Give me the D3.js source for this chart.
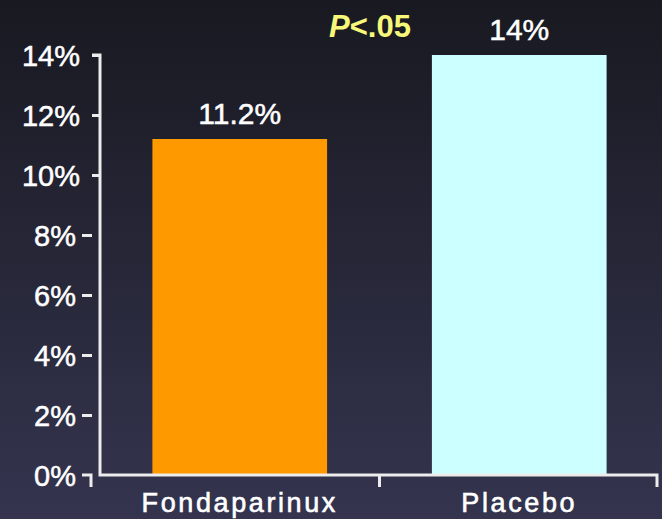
<!DOCTYPE html>
<html>
<head>
<meta charset="utf-8">
<script src="https://cdn.jsdelivr.net/npm/d3@7"></script>
<style>
  html, body { margin: 0; padding: 0; background: #1a1a24; }
  svg { display: block; }
  text { font-family: "Liberation Sans", Arial, sans-serif; }
</style>
</head>
<body>
<div id="chart-area"></div>
<script>
// data
var categories = ["Fondaparinux", "Placebo"];
var values = [11.2, 14];
var valueLabels = ["11.2%", "14%"];
var barColors = ["#ff9900", "#ccffff"];
var yTicks = [0, 2, 4, 6, 8, 10, 12, 14];
var pLabel = ".05";

var W = 662, H = 519;
var margin = { left: 100, right: 3, top: 55, bottom: 44 };
var width = W - margin.left - margin.right,
    height = H - margin.top - margin.bottom;

var svg = d3.select("#chart-area")
    .append("svg")
        .attr("width", W)
        .attr("height", H);

// background gradient
var grad = svg.append("defs").append("linearGradient")
    .attr("id", "bg")
    .attr("x1", 0).attr("y1", 0).attr("x2", 0).attr("y2", 1);
grad.append("stop").attr("offset", "0%").attr("stop-color", "#191921");
grad.append("stop").attr("offset", "100%").attr("stop-color", "#34344f");
svg.append("rect")
    .attr("width", W).attr("height", H)
    .attr("fill", "url(#bg)");

var g = svg.append("g")
    .attr("transform", "translate(" + margin.left + ", " + margin.top + ")");

// scales
var x = d3.scaleBand()
    .domain(categories)
    .range([0, width])
    .paddingInner(0.375)
    .paddingOuter(0.1875);

var y = d3.scaleLinear()
    .domain([0, 14])
    .range([height, 0]);

var axisColor = "#ececec";

// bars
g.selectAll("rect.bar")
    .data(categories)
    .enter().append("rect")
        .attr("class", "bar")
        .attr("x", function(d){ return x(d); })
        .attr("y", function(d, i){ return y(values[i]); })
        .attr("width", x.bandwidth())
        .attr("height", function(d, i){ return height - y(values[i]); })
        .attr("fill", function(d, i){ return barColors[i]; });

// value labels
g.selectAll("text.val")
    .data(categories)
    .enter().append("text")
        .attr("class", "val")
        .attr("x", function(d){ return x(d) + x.bandwidth() / 2; })
        .attr("y", function(d, i){ return y(values[i]) - 15; })
        .attr("text-anchor", "middle")
        .attr("fill", "#ffffff")
        .attr("stroke", "#ffffff")
        .attr("stroke-width", 0.5)
        .attr("font-size", "30px")
        .text(function(d, i){ return valueLabels[i]; });

// Y axis
var yAxisGroup = g.append("g").attr("class", "y axis");
yAxisGroup.call(d3.axisLeft(y).tickValues(yTicks).tickSize(8).tickSizeOuter(0)
    .tickFormat(function(d){ return d + "%"; }));
yAxisGroup.select(".domain").remove();
yAxisGroup.selectAll(".tick line")
    .attr("stroke", axisColor)
    .attr("stroke-width", 3)
    .attr("x1", function(d){ return d >= 10 ? 0 : -8; })
    .attr("x2", function(d){ return d >= 10 ? -8 : -18; })
    .style("display", function(d){ return d === 0 ? "none" : null; });
yAxisGroup.selectAll(".tick text")
    .attr("fill", "#ffffff")
    .attr("stroke", "#ffffff")
    .attr("stroke-width", 0.5)
    .attr("font-size", "29px")
    .attr("font-family", "Liberation Sans, Arial, sans-serif")
    .attr("dy", "0.36em")
    .attr("x", function(d){ return d >= 10 ? -20 : -24; });

// hook mark at 0
g.append("path")
    .attr("d", "M-18," + y(0) + "H-9V" + (y(0) + 12))
    .attr("fill", "none")
    .attr("stroke", axisColor)
    .attr("stroke-width", 3);

// axis frame: top corner, y line, x line, right end tick
var x1 = x.range()[1] - 2;
g.append("path")
    .attr("d", "M-8," + y(14) + "H0V" + y(0) + "H" + x1 + "V" + (y(0) + 12))
    .attr("fill", "none")
    .attr("stroke", axisColor)
    .attr("stroke-width", 3);

// category boundary tick between bars
var mid = x(categories[1]) - x.step() * x.paddingInner() / 2;
g.append("line")
    .attr("x1", mid).attr("x2", mid)
    .attr("y1", y(0)).attr("y2", y(0) + 12)
    .attr("stroke", axisColor)
    .attr("stroke-width", 3);

// X labels
g.selectAll("text.cat")
    .data(categories)
    .enter().append("text")
        .attr("class", "cat")
        .attr("x", function(d){ return x(d) + x.bandwidth() / 2; })
        .attr("y", height + 37)
        .attr("text-anchor", "middle")
        .attr("fill", "#ffffff")
        .attr("stroke", "#ffffff")
        .attr("stroke-width", 0.6)
        .attr("font-size", "27px")
        .attr("letter-spacing", "2.6px")
        .text(function(d){ return d; });

// P value
var pText = svg.append("text")
    .attr("x", 370)
    .attr("y", 37)
    .attr("text-anchor", "middle")
    .attr("fill", "#f7f77a")
    .attr("font-size", "31px")
    .attr("font-weight", "bold");
pText.append("tspan").attr("font-style", "italic").text("P");
pText.append("tspan").text("<" + pLabel);
</script>
</body>
</html>
